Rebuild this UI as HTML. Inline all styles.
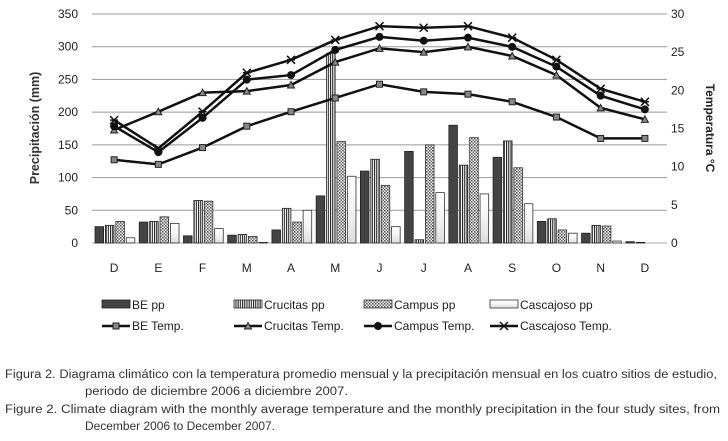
<!DOCTYPE html>
<html><head><meta charset="utf-8"><style>
body{margin:0;background:#fff;}
svg{display:block;font-family:"Liberation Sans",sans-serif;}
</style></head><body>
<svg id="chart" width="728" height="441" viewBox="0 0 728 441">
<defs>
<pattern id="pStripe" width="2.2" height="4" patternUnits="userSpaceOnUse"><rect width="2.2" height="4" fill="#fff"/><rect width="1.1" height="4" fill="#222"/></pattern>
<pattern id="pCheck" width="3" height="3" patternUnits="userSpaceOnUse"><rect width="3" height="3" fill="#eee"/><rect width="1.5" height="1.5" fill="#555"/><rect x="1.5" y="1.5" width="1.5" height="1.5" fill="#777"/></pattern>
<linearGradient id="gCas" x1="0" y1="0" x2="0" y2="1"><stop offset="0" stop-color="#fff"/><stop offset="0.5" stop-color="#f4f4f4"/><stop offset="1" stop-color="#ddd"/></linearGradient>
</defs>
<g id="grid"></g><g id="bars"></g><g id="lines"></g><g id="axes"></g>
<text x="39" y="128" transform="rotate(-90 39 128)" text-anchor="middle" font-size="12.5" font-weight="bold" fill="#333">Precipitación (mm)</text>
<text x="706" y="128" transform="rotate(90 706 128)" text-anchor="middle" font-size="12" font-weight="bold" fill="#222">Temperatura °C</text>
<g id="legend" font-size="12" fill="#222"></g>
<g font-size="11.5" fill="#333">
<text x="5" y="378" textLength="712" lengthAdjust="spacingAndGlyphs">Figura 2. Diagrama climático con la temperatura promedio mensual y la precipitación mensual en los  cuatro sitios de estudio,</text>
<text x="85" y="395" textLength="263" lengthAdjust="spacingAndGlyphs">periodo de diciembre 2006 a diciembre 2007.</text>
<text x="5" y="413" textLength="715" lengthAdjust="spacingAndGlyphs">Figure 2. Climate diagram with the monthly average temperature and the monthly precipitation in the four study sites, from</text>
<text x="85" y="430" textLength="190" lengthAdjust="spacingAndGlyphs">December 2006 to December 2007.</text>
</g>
</svg>
<script>
const months = ["D","E","F","M","A","M","J","J","A","S","O","N","D"];
const bePp = [25,32,11,12,20,72,110,140,180,131,33,15,2];
const cruPp = [27,33,65,13,53,290,128,5,119,156,37,27,1];
const camPp = [33,40,64,10,32,155,88,150,161,115,20,26,0];
const casPp = [8,30,22,1,50,102,25,77,75,60,15,3,0];
const beT = [10.9,10.3,12.5,15.3,17.2,19,20.8,19.8,19.5,18.5,16.5,13.7,13.7];
const cruT = [14.8,17.2,19.7,19.9,20.7,23.7,25.5,25,25.7,24.5,22,17.7,16.2];
const camT = [15.3,11.9,16.4,21.4,22,25.3,27,26.5,26.9,25.7,23.1,19.3,17.5];
const casT = [16.1,12.4,17.2,22.3,24,26.6,28.4,28.2,28.4,26.9,24,20.2,18.5];
const ppTicks = [0,50,100,150,200,250,300,350];
const tTicks = [0,5,10,15,20,25,30];

const NS="http://www.w3.org/2000/svg";
const X0=92,X1=667,Y0=243,Y1=14;
const cw=(X1-X0)/months.length;
const yP=v=>Y0-(v/350)*(Y0-Y1);
const yT=v=>Y0-(v/30)*(Y0-Y1);
const xC=i=>X0+cw*(i+0.5);
function mk(tag,attrs,parent){const e=document.createElementNS(NS,tag);for(const k in attrs)e.setAttribute(k,attrs[k]);document.getElementById(parent).appendChild(e);return e;}

ppTicks.forEach(t=>{
  const g=mk('line',{x1:X0,x2:X1,y1:yP(t),y2:yP(t),stroke:t===0?'#aaa':'#999','stroke-width':1},'grid');
  
  
  const l=mk('text',{x:78,y:yP(t)+4,'text-anchor':'end','font-size':12,fill:'#222'},'axes');
  l.textContent=t;
  
  
});
tTicks.forEach(t=>{
  const l=mk('text',{x:671,y:yT(t)+4,'font-size':12,fill:'#222'},'axes');
  l.textContent=t;
  
  
});
months.forEach((m,i)=>{
  const l=mk('text',{x:xC(i),y:272,'text-anchor':'middle','font-size':12,fill:'#222'},'axes');
  l.textContent=m;
  
  
});
const series=[[bePp,'#444','#222','bar-be'],[cruPp,'url(#pStripe)','#222','bar-crucitas'],[camPp,'url(#pCheck)','#333','bar-campus'],[casPp,'url(#gCas)','#333','bar-cascajoso']];
const bw=8.6;
series.forEach((s,k)=>{
  s[0].forEach((v,i)=>{
    const x=X0+cw*i+3+k*(bw+1.8);
    const r=mk('rect',{x:x,y:yP(v),width:bw,height:Y0-yP(v),fill:s[1],stroke:s[2],'stroke-width':0.8},'bars');
    
    
  });
});
const lines=[[beT,'sq','line-be-temp'],[cruT,'tri','line-crucitas-temp'],[camT,'dot','line-campus-temp'],[casT,'x','line-cascajoso-temp']];
function marker(type,x,y,g){
  if(type==='sq')mk('rect',{x:x-3,y:y-3,width:6,height:6,fill:'#888',stroke:'#222','stroke-width':1},g);
  else if(type==='tri')mk('path',{d:`M${x-3.5},${y+3}L${x},${y-3.5}L${x+3.5},${y+3}Z`,fill:'#888',stroke:'#222'},g);
  else if(type==='dot')mk('circle',{cx:x,cy:y,r:4,fill:'#111'},g);
  else mk('path',{d:`M${x-4},${y-4}L${x+4},${y+4}M${x+4},${y-4}L${x-4},${y+4}M${x-4},${y}L${x+4},${y}`,stroke:'#111','stroke-width':1.5},g);
}
lines.forEach(L=>{
  const pts=L[0].map((v,i)=>xC(i)+','+yT(v)).join(' ');
  const p=mk('polyline',{points:pts,fill:'none',stroke:'#111','stroke-width':2.5},'lines');
  
  
  L[0].forEach((v,i)=>marker(L[1],xC(i),yT(v),'lines'));
});
const legX=[106,238,368,494];
const legNames=["BE pp","Crucitas pp","Campus pp","Cascajoso pp"];
const legTNames=["BE Temp.","Crucitas Temp.","Campus Temp.","Cascajoso Temp."];
legNames.forEach((n,k)=>{
  const r=mk('rect',{x:legX[k]-4,y:300,width:28,height:8,fill:series[k][1],stroke:series[k][2],'stroke-width':0.8},'legend');
  
  
  const t=mk('text',{x:legX[k]+26,y:309,'font-size':12,fill:'#222'},'legend');
  t.textContent=n;
  
  
  mk('line',{x1:legX[k]-4,x2:legX[k]+24,y1:326,y2:326,stroke:'#111','stroke-width':2.5},'legend');
  marker(lines[k][1],legX[k]+10,326,'legend');
  const t2=mk('text',{x:legX[k]+26,y:330,'font-size':12,fill:'#222'},'legend');
  t2.textContent=legTNames[k];
  
  
});
</script>
</body></html>
